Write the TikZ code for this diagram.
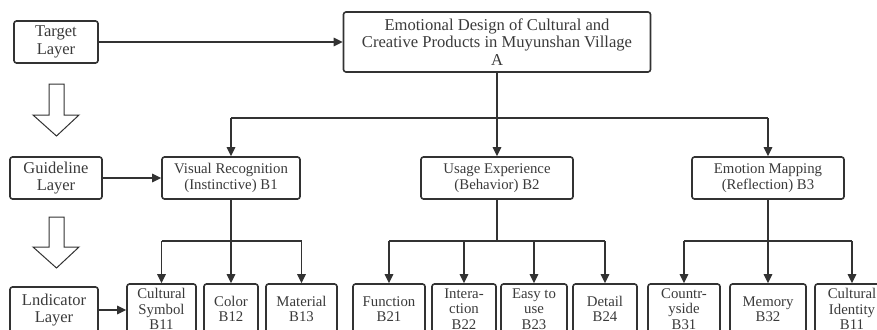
\documentclass[tikz,border=0pt]{standalone}
\usepackage{fontspec}
\setmainfont{Liberation Serif}
\usetikzlibrary{arrows.meta}
\definecolor{linec}{RGB}{50,50,50}
\definecolor{textc}{RGB}{58,58,58}
\tikzset{
  box/.style={draw=linec, line width=1.6pt, rounded corners=2.5pt, inner sep=0pt, align=center, text=textc, anchor=center},
  layerbox/.style={box, font=\fontsize{16.5}{17.5}\selectfont},
  catbox/.style={box, font=\fontsize{14.8}{15.5}\selectfont, minimum height=42pt},
  indbox/.style={box, font=\fontsize{14.8}{15.5}\selectfont, minimum height=50pt},
  conn/.style={draw=linec, line width=1.4pt},
  arr/.style={conn, -{Triangle[length=9pt,width=8.5pt]}},
  hollow/.style={draw=linec, line width=1pt, fill=white, line join=miter}
}
\begin{document}
\begin{tikzpicture}[x=1pt,y=-1pt]
\useasboundingbox (0,0) rectangle (877,329);
\clip (0,0) rectangle (877,329);
% layer boxes
\node[layerbox, minimum width=84pt, minimum height=42pt] (T) at (56,42) {Target\\Layer};
\node[layerbox, minimum width=92pt, minimum height=42pt] (G) at (56,178) {Guideline\\Layer};
\node[layerbox, minimum width=88pt, minimum height=46pt] (L) at (54,310) {Lndicator\\Layer};
% target
\node[box, font=\fontsize{16.6}{17.2}\selectfont, minimum width=307pt, minimum height=60pt] (A) at (497,42) {Emotional Design of Cultural and\\Creative Products in Muyunshan Village\\A};
% guideline
\node[catbox, minimum width=138pt] (B1) at (231,178) {Visual Recognition\\(Instinctive) B1};
\node[catbox, minimum width=152pt] (B2) at (497,178) {Usage Experience\\(Behavior) B2};
\node[catbox, minimum width=152pt] (B3) at (768,178) {Emotion Mapping\\(Reflection) B3};
% indicators
\node[indbox, minimum width=69pt] (B11) at (161.5,309) {Cultural\\Symbol\\B11};
\node[indbox, minimum width=54pt] (B12) at (231,309) {Color\\B12};
\node[indbox, minimum width=71pt] (B13) at (301.5,309) {Material\\B13};
\node[indbox, minimum width=72pt] (B21) at (389,309) {Function\\B21};
\node[indbox, minimum width=64pt] (B22) at (464,309) {Intera-\\ction\\B22};
\node[indbox, minimum width=66pt] (B23) at (534,309) {Easy to\\use\\B23};
\node[indbox, minimum width=64pt] (B24) at (605,309) {Detail\\B24};
\node[indbox, minimum width=72pt] (B31) at (684,309) {Countr-\\yside\\B31};
\node[indbox, minimum width=76pt] (B32) at (768,309) {Memory\\B32};
\node[indbox, minimum width=74pt] (B33) at (852,309) {Cultural\\Identity\\B11};
% layer arrows
\draw[arr] (T.east) -- (A.west |- T.east);
\draw[arr] (G.east) -- (B1.west |- G.east);
\draw[arr] (L.east) -- (B11.west |- L.east);
% hollow arrows
\draw[hollow] (49,84) -- (64,84) -- (64,115) -- (79,115) -- (56.5,136) -- (33,115) -- (49,115) -- cycle;
\draw[hollow] (49,217) -- (64,217) -- (64,247) -- (79,247) -- (56.5,268) -- (33,247) -- (49,247) -- cycle;
% bus A
\coordinate (busA) at (497,118);
\draw[conn] (A.south) -- (A.south |- busA);
\draw[conn] (B1.north |- busA) -- (B3.north |- busA);
\draw[arr] (B1.north |- busA) -- (B1.north);
\draw[arr] (B2.north |- busA) -- (B2.north);
\draw[arr] (B3.north |- busA) -- (B3.north);
% bus B1
\coordinate (busB) at (0,241);
\draw[conn] (B1.south) -- (B1.south |- busB);
\draw[conn] (B11.north |- busB) -- (B13.north |- busB);
\draw[arr] (B11.north |- busB) -- (B11.north);
\draw[arr] (B12.north |- busB) -- (B12.north);
\draw[arr] (B13.north |- busB) -- (B13.north);
% bus B2
\draw[conn] (B2.south) -- (B2.south |- busB);
\draw[conn] (B21.north |- busB) -- (B24.north |- busB);
\draw[arr] (B21.north |- busB) -- (B21.north);
\draw[arr] (B22.north |- busB) -- (B22.north);
\draw[arr] (B23.north |- busB) -- (B23.north);
\draw[arr] (B24.north |- busB) -- (B24.north);
% bus B3
\draw[conn] (B3.south) -- (B3.south |- busB);
\draw[conn] (B31.north |- busB) -- (B33.north |- busB);
\draw[arr] (B31.north |- busB) -- (B31.north);
\draw[arr] (B32.north |- busB) -- (B32.north);
\draw[arr] (B33.north |- busB) -- (B33.north);
\end{tikzpicture}
\end{document}
